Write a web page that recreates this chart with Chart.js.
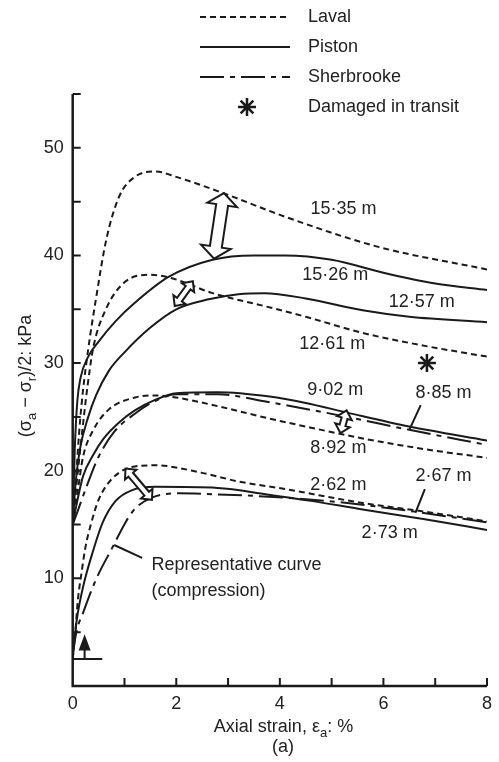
<!DOCTYPE html>
<html lang="en">
<head>
  <meta charset="UTF-8">
  <title>Stress-strain curves</title>
  <script src="https://cdn.jsdelivr.net/npm/chart.js"></script>
  <style>
    body { margin: 0; background: #fff; }
    canvas { display: block; }
  </style>
</head>
<body>
  <canvas id="chart" width="499" height="762"></canvas>

  <script>
    // curves: [axial strain %, (sa - sr)/2 kPa]
    const laval1535 = [[0,15],[0.08,20.5],[0.14,24.5],[0.2,27.5],[0.3,31.3],[0.45,36],[0.65,41.5],[0.9,45.5],[1.2,47.3],[1.6,47.8],[2.0,47.3],[2.9,45.8],[4.1,43.6],[5.9,40.8],[8,38.7]];
    const piston1526 = [[0,15],[0.04,22],[0.09,26.5],[0.15,28.6],[0.3,30.6],[0.5,32],[0.83,33.9],[1.2,35.6],[1.85,38],[2.7,39.6],[3.5,40],[4.1,40],[5.0,39.6],[6.0,38.4],[7,37.4],[8,36.8]];
    const piston1257 = [[0,15],[0.05,18.5],[0.14,22],[0.3,25],[0.45,27],[0.7,29.3],[1.0,31],[1.5,33.3],[2.0,35],[2.6,35.9],[3.2,36.4],[3.7,36.5],[4.5,36],[5.6,34.9],[6.5,34.3],[8,33.8]];
    const laval1261 = [[0,15],[0.08,19],[0.18,23.5],[0.29,28],[0.4,31.5],[0.64,35],[1.0,37.5],[1.5,38.2],[1.9,37.9],[2.7,36.5],[3.7,35.3],[4.5,34.3],[5.6,32.8],[6.8,31.6],[8,30.6]];
    const piston902 = [[0,15],[0.08,17],[0.2,19.5],[0.4,21.5],[0.6,23],[0.9,24.5],[1.2,25.6],[1.6,26.6],[2.0,27.2],[2.8,27.3],[3.8,26.9],[4.5,26.3],[5.3,25.4],[6.5,24.1],[8,22.8]];
    const sher885 = [[0,15],[0.1,16.3],[0.25,18.3],[0.5,21.3],[0.8,23.6],[1.2,25.3],[1.6,26.5],[2.0,27.1],[2.8,27.1],[3.75,26.4],[5.3,25],[6.5,23.8],[8,22.4]];
    const laval892 = [[0,15],[0.1,18.2],[0.2,21.3],[0.4,23.8],[0.7,25.7],[1.2,26.8],[1.6,27],[2.0,26.8],[2.8,26],[3.75,24.9],[4.6,24],[5.6,23],[6.8,22],[8,21.2]];
    const laval262 = [[0,2.5],[0.05,5],[0.1,8],[0.17,10.5],[0.25,13],[0.35,15],[0.5,17.3],[0.75,19.2],[1.2,20.4],[1.6,20.5],[2.5,19.8],[3.2,19],[4.1,18.3],[5.6,17.0],[6.8,16.2],[8,15.3]];
    const piston273 = [[0,2.5],[0.04,4.5],[0.08,6.2],[0.2,9.2],[0.39,12.5],[0.58,15.2],[0.83,17.2],[1.15,18.2],[1.6,18.5],[2.8,18.4],[3.75,17.8],[4.6,17.2],[5.6,16.4],[6.8,15.5],[8,14.5]];
    const sher267 = [[0,3],[0.08,5.2],[0.2,6.8],[0.45,9.9],[0.77,12.9],[1.02,15.2],[1.21,16.5],[1.53,17.5],[2.04,17.9],[2.8,17.8],[4.1,17.5],[5.3,17.0],[6.6,16.2],[8,15.2]];
    const damaged = [[6.84,30.0]];

    // depth labels [text, strain, stress]
    const depthLabels = [
      ['15·35 m', 5.23, 44.3], ['15·26 m', 5.07, 38.2], ['12·57 m', 6.74, 35.7],
      ['12·61 m', 5.01, 31.8], ['9·02 m', 5.07, 27.5], ['8·85 m', 7.16, 27.2],
      ['8·92 m', 5.13, 22.1], ['2·67 m', 7.16, 19.5], ['2·62 m', 5.13, 18.7],
      ['2·73 m', 6.12, 14.2]
    ];
    const leaders = [[6.72,26.1,6.5,23.8],[6.8,18.3,6.62,16.1],[1.34,11.9,0.8,13.1]];
    // hollow double arrows between pairs of curves
    const gapArrows = [[2.92,45.8,2.73,39.7,'big'],[2.32,37.6,1.97,35.3,'small'],[5.29,25.6,5.17,23.5,'small'],[1.02,20.2,1.53,17.3,'small']];

    const xTickLabels = [0, 2, 4, 6, 8];
    const yTickLabels = [10, 20, 30, 40, 50];

    const FONT = '"Liberation Sans", Arial, sans-serif';
    const INK = '#1a1a1a';
    const DASH = [6, 4];
    const DASHDOT = [24, 6, 5, 6];

    const pts = arr => arr.map(p => ({x: p[0], y: p[1]}));

    function curve(data, dash) {
      return {
        data: pts(data),
        showLine: true,
        borderColor: INK,
        borderWidth: 2,
        borderDash: dash,
        pointRadius: 0,
        cubicInterpolationMode: 'monotone',
        fill: false
      };
    }

    function drawRich(ctx, pieces, x, y) {
      // pieces: [text, isSub]; centred on x
      let w = 0;
      pieces.forEach(p => {
        ctx.font = (p[1] ? '13px ' : '18px ') + FONT;
        w += ctx.measureText(p[0]).width;
      });
      let cx = x - w / 2;
      pieces.forEach(p => {
        ctx.font = (p[1] ? '13px ' : '18px ') + FONT;
        ctx.fillText(p[0], cx, y + (p[1] ? 5 : 0));
        cx += ctx.measureText(p[0]).width;
      });
    }

    function hollowArrow(ctx, x1, y1, x2, y2, shaft, head, headLen) {
      const L = Math.hypot(x2 - x1, y2 - y1);
      const ux = (x2 - x1) / L, uy = (y2 - y1) / L;
      const nx = -uy, ny = ux;
      const P = (s, t) => [x1 + ux * s + nx * t, y1 + uy * s + ny * t];
      const poly = [P(0,0), P(headLen,head/2), P(headLen,shaft/2), P(L-headLen,shaft/2), P(L-headLen,head/2),
                    P(L,0), P(L-headLen,-head/2), P(L-headLen,-shaft/2), P(headLen,-shaft/2), P(headLen,-head/2)];
      ctx.beginPath();
      poly.forEach((p, i) => i ? ctx.lineTo(p[0], p[1]) : ctx.moveTo(p[0], p[1]));
      ctx.closePath();
      ctx.fillStyle = '#fff';
      ctx.fill();
      ctx.lineWidth = 2;
      ctx.strokeStyle = INK;
      ctx.stroke();
    }

    function star(ctx, x, y, r) {
      ctx.beginPath();
      for (let i = 0; i < 4; i++) {
        const a = i * Math.PI / 4;
        ctx.moveTo(x - r * Math.cos(a), y - r * Math.sin(a));
        ctx.lineTo(x + r * Math.cos(a), y + r * Math.sin(a));
      }
      ctx.lineWidth = 2.5;
      ctx.strokeStyle = INK;
      ctx.stroke();
      ctx.beginPath();
      ctx.arc(x, y, r * 0.35, 0, Math.PI * 2);
      ctx.fillStyle = INK;
      ctx.fill();
    }

    const decorations = {
      id: 'decorations',
      afterDatasetsDraw(chart) {
        const ctx = chart.ctx;
        const xs = chart.scales.x, ys = chart.scales.y;
        const px = v => xs.getPixelForValue(v), py = v => ys.getPixelForValue(v);
        ctx.save();
        ctx.setLineDash([]);

        // axes with inward ticks
        ctx.strokeStyle = INK;
        ctx.lineWidth = 2.5;
        ctx.beginPath();
        ctx.moveTo(px(0), py(55));
        ctx.lineTo(px(0), py(0));
        ctx.lineTo(px(8), py(0));
        ctx.stroke();
        ctx.lineWidth = 2;
        ctx.beginPath();
        for (let v = 5; v <= 55; v += 5) { ctx.moveTo(px(0), py(v)); ctx.lineTo(px(0) + 8, py(v)); }
        for (let v = 1; v <= 8; v++) { ctx.moveTo(px(v), py(0)); ctx.lineTo(px(v), py(0) - 8); }
        ctx.stroke();

        // initial stress marker
        ctx.lineWidth = 2;
        ctx.beginPath();
        ctx.moveTo(px(0), py(2.5)); ctx.lineTo(px(0.57), py(2.5));
        ctx.moveTo(px(0.23), py(2.5)); ctx.lineTo(px(0.23), py(3.4));
        ctx.stroke();
        ctx.fillStyle = INK;
        ctx.beginPath();
        ctx.moveTo(px(0.23), py(4.8));
        ctx.lineTo(px(0.23) - 6, py(3.3));
        ctx.lineTo(px(0.23) + 6, py(3.3));
        ctx.closePath();
        ctx.fill();

        // damaged sample marker
        damaged.forEach(d => star(ctx, px(d[0]), py(d[1]), 9));

        // leader lines
        ctx.lineWidth = 2;
        ctx.beginPath();
        leaders.forEach(l => { ctx.moveTo(px(l[0]), py(l[1])); ctx.lineTo(px(l[2]), py(l[3])); });
        ctx.stroke();

        gapArrows.forEach(a => {
          if (a[4] === 'big') hollowArrow(ctx, px(a[0]), py(a[1]), px(a[2]), py(a[3]), 12, 30, 12);
          else hollowArrow(ctx, px(a[0]), py(a[1]), px(a[2]), py(a[3]), 6, 15, 8);
        });

        // depth labels
        ctx.fillStyle = '#222';
        ctx.font = '18px ' + FONT;
        ctx.textAlign = 'center';
        ctx.textBaseline = 'middle';
        depthLabels.forEach(l => ctx.fillText(l[0], px(l[1]), py(l[2])));
        ctx.textAlign = 'left';
        ctx.fillText('Representative curve', px(1.52), py(11.25));
        ctx.fillText('(compression)', px(1.52), py(8.83));

        // legend
        const legend = [['Laval', DASH, 17], ['Piston', [], 47], ['Sherbrooke', DASHDOT, 77]];
        legend.forEach(l => {
          ctx.setLineDash(l[1]);
          ctx.lineWidth = 2;
          ctx.beginPath();
          ctx.moveTo(200, l[2]); ctx.lineTo(290, l[2]);
          ctx.stroke();
          ctx.setLineDash([]);
          ctx.fillStyle = '#222';
          ctx.fillText(l[0], 308, l[2]);
        });
        star(ctx, 247, 107, 9);
        ctx.fillStyle = '#222';
        ctx.fillText('Damaged in transit', 308, 107);

        // axis titles
        ctx.textAlign = 'left';
        ctx.textBaseline = 'alphabetic';
        drawRich(ctx, [['Axial strain, ε', false], ['a', true], [': %', false]], 283.5, 732);
        ctx.font = '18px ' + FONT;
        ctx.textAlign = 'center';
        ctx.fillText('(a)', 283, 752);
        ctx.textAlign = 'left';
        ctx.translate(31, 376);
        ctx.rotate(-Math.PI / 2);
        drawRich(ctx, [['(σ', false], ['a', true], [' − σ', false], ['r', true], [')/2: kPa', false]], 0, 0);
        ctx.restore();
      }
    };

    const ctx = document.getElementById('chart').getContext('2d');
    new Chart(ctx, {
      type: 'scatter',
      data: {
        datasets: [
          curve(laval1535, DASH), curve(piston1526, []), curve(piston1257, []), curve(laval1261, DASH),
          curve(piston902, []), curve(sher885, DASHDOT), curve(laval892, DASH),
          curve(laval262, DASH), curve(piston273, []), curve(sher267, DASHDOT)
        ]
      },
      options: {
        responsive: false,
        animation: false,
        layout: { padding: { top: 94, right: 5, left: 0, bottom: 0 } },
        plugins: { legend: { display: false }, tooltip: { enabled: false } },
        scales: {
          x: {
            type: 'linear', min: 0, max: 8,
            grid: { display: false, drawTicks: false },
            border: { display: false },
            afterFit: s => { s.height = 76; },
            ticks: {
              stepSize: 1, padding: 7, color: '#222',
              font: { family: FONT, size: 18 },
              callback: v => xTickLabels.includes(v) ? String(v) : ''
            }
          },
          y: {
            type: 'linear', min: 0, max: 55,
            grid: { display: false, drawTicks: false },
            border: { display: false },
            afterFit: s => { s.width = 72.7; },
            ticks: {
              stepSize: 5, padding: 9, color: '#222',
              font: { family: FONT, size: 18 },
              callback: v => yTickLabels.includes(v) ? String(v) : ''
            }
          }
        }
      },
      plugins: [decorations]
    });
  </script>
</body>
</html>
